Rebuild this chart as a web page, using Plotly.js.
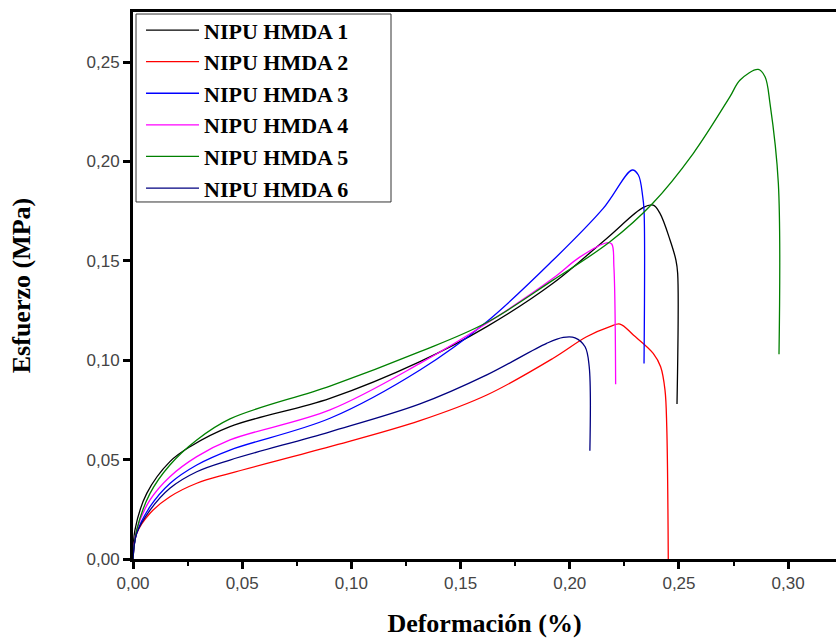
<!DOCTYPE html>
<html>
<head>
<meta charset="utf-8">
<script src="https://cdn.plot.ly/plotly-3.0.1.min.js"></script>
<style>html,body{margin:0;padding:0;background:#fff;}#chart{width:836px;height:638px;}</style>
</head>
<body>
<div id="chart"></div>
<script>
// Series names
const seriesNames = ["NIPU HMDA 1", "NIPU HMDA 2", "NIPU HMDA 3", "NIPU HMDA 4", "NIPU HMDA 5", "NIPU HMDA 6"];
const seriesColors = ["#000000", "#ff0000", "#0000ff", "#ff00ff", "#008000", "#000080"];

// NIPU HMDA 1 (black)
const x1 = [0, 0.0009, 0.0063, 0.0169, 0.0261, 0.0444, 0.0902, 0.1314, 0.162, 0.1923, 0.2169, 0.2337, 0.2382, 0.2413, 0.2459, 0.2486, 0.2494, 0.2491];
const y1 = [0, 0.0146, 0.033, 0.049, 0.0565, 0.0666, 0.0808, 0.0993, 0.1169, 0.1387, 0.1613, 0.1769, 0.178, 0.1739, 0.1605, 0.1504, 0.1437, 0.078];

// NIPU HMDA 2 (red)
const x2 = [0, 0.0017, 0.0078, 0.0169, 0.0292, 0.0444, 0.0902, 0.1314, 0.162, 0.1924, 0.2077, 0.2184, 0.223, 0.2291, 0.2382, 0.2416, 0.2436, 0.2444, 0.2451];
const y2 = [0, 0.0129, 0.023, 0.0313, 0.0381, 0.0431, 0.0565, 0.0696, 0.0825, 0.101, 0.1118, 0.1169, 0.1182, 0.1127, 0.1035, 0.0967, 0.085, 0.0666, 0];

// NIPU HMDA 3 (blue)
const x3 = [0, 0.0017, 0.0078, 0.0169, 0.0292, 0.0444, 0.0902, 0.1314, 0.162, 0.1924, 0.2153, 0.2286, 0.2314, 0.2334, 0.234, 0.234];
const y3 = [0, 0.013, 0.0263, 0.038, 0.0473, 0.0548, 0.0708, 0.0951, 0.1194, 0.1504, 0.1764, 0.1957, 0.1932, 0.1823, 0.1756, 0.0984];

// NIPU HMDA 4 (magenta)
const x4 = [0, 0.0017, 0.0078, 0.0169, 0.0292, 0.0444, 0.0902, 0.1314, 0.162, 0.1923, 0.2047, 0.2169, 0.2192, 0.2202, 0.221];
const y4 = [0, 0.0146, 0.0297, 0.0414, 0.0515, 0.0599, 0.075, 0.0984, 0.1186, 0.1412, 0.152, 0.1591, 0.1585, 0.147, 0.0879];

// NIPU HMDA 5 (green)
const x5 = [0, 0.0017, 0.0078, 0.0169, 0.0292, 0.0444, 0.0902, 0.1314, 0.162, 0.1923, 0.2184, 0.238, 0.2565, 0.2733, 0.278, 0.2863, 0.2894, 0.2917, 0.2955, 0.2958];
const y5 = [0, 0.0146, 0.033, 0.0473, 0.0599, 0.0705, 0.087, 0.1043, 0.119, 0.1403, 0.1596, 0.179, 0.204, 0.2325, 0.241, 0.2463, 0.2426, 0.229, 0.189, 0.103];

// NIPU HMDA 6 (navy)
const x6 = [0, 0.0017, 0.0078, 0.0169, 0.0292, 0.0444, 0.0902, 0.1314, 0.162, 0.1894, 0.197, 0.2024, 0.207, 0.2089, 0.2092];
const y6 = [0, 0.0129, 0.0246, 0.0356, 0.0439, 0.0498, 0.064, 0.078, 0.0926, 0.1085, 0.1115, 0.1113, 0.1068, 0.0967, 0.0545];

const xs = [x1, x2, x3, x4, x5, x6];
const ys = [y1, y2, y3, y4, y5, y6];

const traces = seriesNames.map((name, i) => ({
  x: xs[i], y: ys[i], name: name, type: 'scatter', mode: 'lines',
  line: {color: seriesColors[i], width: 1.3, shape: 'spline', smoothing: 1}
}));

const layout = {
  width: 836, height: 638,
  margin: {l: 133, r: 0, t: 12, b: 79},
  paper_bgcolor: '#fff', plot_bgcolor: '#fff',
  separators: ',.',
  showlegend: true,
  legend: {
    x: 0.0114, y: 1.005, xanchor: 'left', yanchor: 'top',
    bgcolor: 'rgba(0,0,0,0)', borderwidth: 0, itemwidth: 53,
    font: {family: 'Liberation Serif', size: 22, color: '#000', weight: 'bold'},
    tracegroupgap: 0
  },
  shapes: [{
    type: 'rect', xref: 'paper', yref: 'paper',
    x0: 0.0043, x1: 0.367, y0: 0.6527, y1: 0.9963,
    line: {color: '#333', width: 1}, fillcolor: '#fff', layer: 'below'
  }],
  xaxis: {
    range: [0, 0.3219], dtick: 0.05, tick0: 0, tickformat: '.2f',
    showgrid: false, zeroline: false,
    showline: true, linewidth: 3, linecolor: '#000', mirror: true,
    ticks: 'outside', ticklen: 7, tickwidth: 3, tickcolor: '#000',
    minor: {dtick: 0.025, tick0: 0, ticks: 'outside', ticklen: 4, tickwidth: 2, tickcolor: '#000', showgrid: false},
    tickfont: {family: 'Liberation Sans', size: 17, color: '#444'},
    title: {text: 'Deformación (%)', font: {family: 'Liberation Serif', size: 26, color: '#000', weight: 'bold'}, standoff: 25},
    automargin: false
  },
  yaxis: {
    range: [0, 0.2752], dtick: 0.05, tick0: 0, tickformat: '.2f',
    showgrid: false, zeroline: false,
    showline: true, linewidth: 3, linecolor: '#000', mirror: false,
    ticks: 'outside', ticklen: 7, tickwidth: 3, tickcolor: '#000',
    tickfont: {family: 'Liberation Sans', size: 17, color: '#444'},
    title: {text: 'Esfuerzo (MPa)', font: {family: 'Liberation Serif', size: 26, color: '#000', weight: 'bold'}, standoff: 49},
    automargin: false
  }
};

Plotly.newPlot('chart', traces, layout, {displayModeBar: false, staticPlot: true});
</script>
</body>
</html>
